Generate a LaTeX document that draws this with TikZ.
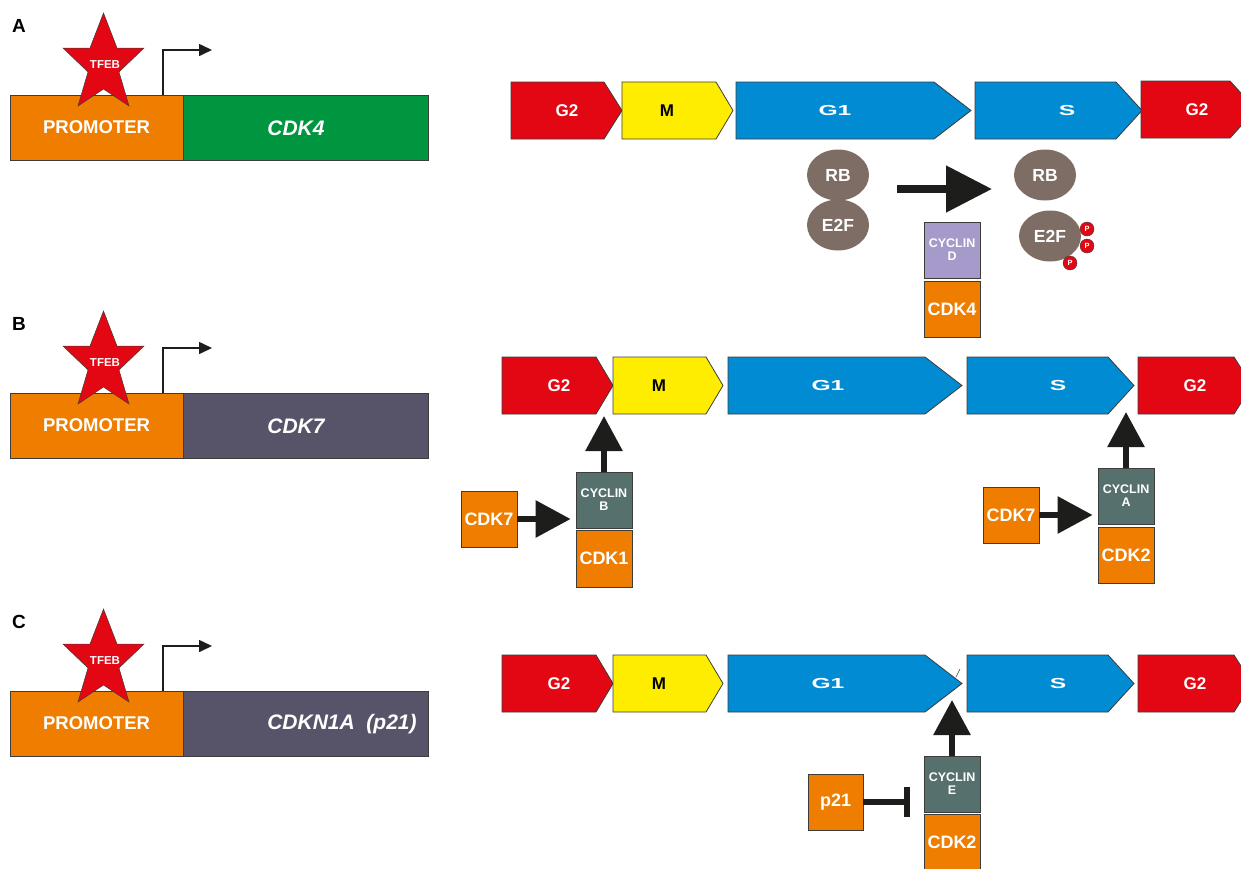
\documentclass[tikz,border=0pt]{standalone}
\usepackage{fontspec}
\setmainfont{Liberation Sans}
\usetikzlibrary{arrows.meta,shapes.geometric}
\definecolor{cred}{RGB}{227,6,19}
\definecolor{corange}{RGB}{239,125,0}
\definecolor{cgreen}{RGB}{0,150,64}
\definecolor{cyellow}{RGB}{255,237,0}
\definecolor{cblue}{RGB}{0,139,210}
\definecolor{cellip}{RGB}{126,109,101}
\definecolor{clav}{RGB}{165,154,202}
\definecolor{cteal}{RGB}{86,112,110}
\definecolor{cslate}{RGB}{87,83,105}
\definecolor{cblack}{RGB}{29,29,27}
\definecolor{cborder}{RGB}{60,60,59}
\newcommand\setfs[1]{\fontsize{#1}{#1}\selectfont}
\newcommand\phw[1]{\textcolor{white}{\setfs{17}\bfseries #1}}
\newcommand\phk[1]{\textcolor{black}{\setfs{17}\bfseries #1}}
\newcommand\phx[1]{\textcolor{white}{\setfs{14.5}\bfseries\scalebox{1.7}[1]{#1}}}
% phase: #1 name, #2 x left, #3 x body end, #4 x tip, #5 y top, #6 fill, #7 text x, #8 text
\newcommand\phase[8]{%
  \draw[phasebox, fill=#6] (#2,#5) -- (#3,#5) -- (#4,{#5+28.5}) -- (#3,{#5+57}) -- (#2,{#5+57}) -- cycle;
  \node[phaselabel] (#1) at (#7,{#5+28.5}) {#8};
}
% gene panel: #1 id, #2 y shift, #3 gene colour, #4 gene text, #5 gene text x
\newcommand\genepanel[5]{%
\begin{scope}[shift={(0,#2)}]
  \node[panellabel] (lab#1) at (19,26) {#1};
  \node[genebox, fill=corange, minimum width=173pt] (prom#1) at (96.5,127.5) {\setfs{18.5}\bfseries PROMOTER};
  \node[genebox, fill=#3, minimum width=245pt] (gene#1) at (305.5,127.5) {};
  \node[text=white, inner sep=0pt] (genelab#1) at (#5,128) {\setfs{21}\bfseries\itshape #4};
  \draw[tfebstar] (103.5,13) -- (90,48) -- (63,48) -- (88,72) -- (78,106) -- (103.5,89)
     -- (129,106) -- (119,72) -- (144,48) -- (117,48) -- cycle;
  \node[text=white, inner sep=0pt] (tfeb#1) at (105,65) {\setfs{11.5}\bfseries TFEB};
  \coordinate (tss#1) at (163,95);
  \coordinate (txend#1) at (212,50);
  \draw[txarrow] (tss#1) |- (txend#1);
\end{scope}}
\begin{document}
\begin{tikzpicture}[x=1pt,y=-1pt,
  phasebox/.style={draw=cborder, line width=0.8pt},
  phaselabel/.style={inner sep=0pt},
  panellabel/.style={inner sep=0pt, font=\setfs{19}\bfseries},
  genebox/.style={draw=cborder, line width=0.8pt, minimum height=65pt, inner sep=0pt, text=white},
  tfebstar/.style={fill=cred, draw=cborder, line width=0.5pt},
  txarrow/.style={draw=cblack, line width=1.6pt, -{Triangle[length=13pt,width=12pt]}},
  protbox/.style={draw=cborder, line width=0.8pt, minimum width=56pt, minimum height=56pt, inner sep=0pt, text=white, align=center},
  cdkbox/.style={protbox, fill=corange, font=\setfs{18}\bfseries},
  cycbox/.style={protbox, font=\setfs{12.5}\bfseries},
  blob/.style={ellipse, fill=cellip, minimum width=62pt, minimum height=51pt, inner sep=0pt, text=white, font=\setfs{17.5}\bfseries},
  phos/.style={circle, fill=cred, draw=cborder, line width=0.4pt, minimum size=14pt, inner sep=0pt, text=white, font=\setfs{7.5}\bfseries},
  bigarrowA/.style={draw=cblack, line width=8pt, -{Triangle[length=46pt,width=45pt]}},
  bigarrow/.style={draw=cblack, line width=6pt, -{Triangle[length=35pt,width=36pt]}},
  inhibit/.style={draw=cblack, line width=6pt, -{Bar[width=30pt]}}
]
\clip (0,0) rectangle (1241,868);

% ---------------- gene panels ----------------
\genepanel{A}{0}{cgreen}{CDK4}{296}
\genepanel{B}{298}{cslate}{CDK7}{296}
\genepanel{C}{596}{cslate}{CDKN1A\ \ (p21)}{342}

% ---------------- panel A cell cycle ----------------
\phase{A-G2a}{511}{604}{622}{82}{cred}{567}{\phw{G2}}
\phase{A-M}{622}{716}{733}{82}{cyellow}{667}{\phk{M}}
\phase{A-G1}{736}{934}{971}{82}{cblue}{835}{\phx{G1}}
\phase{A-S}{975}{1116}{1142}{82}{cblue}{1067}{\phx{S}}
\phase{A-G2b}{1141}{1230}{1256}{81}{cred}{1197}{\phw{G2}}

\node[blob] (rb1) at (838,175) {RB};
\node[blob] (e2f1) at (838,225) {E2F};
\node[blob] (rb2) at (1045,175) {RB};
\node[blob] (e2f2) at (1050,236) {E2F};
\node[phos] (p1) at (1087,229) {P};
\node[phos] (p2) at (1087,246) {P};
\node[phos] (p3) at (1070,263) {P};
\coordinate (arrAs) at (897,189);
\coordinate (arrAe) at (992,189);
\draw[bigarrowA] (arrAs) -- (arrAe);
\node[cycbox, fill=clav] (cycD) at (952,250) {CYCLIN\\[0.5pt]D};
\node[cdkbox] (cdk4) at (952,309) {CDK4};

% ---------------- panel B cell cycle ----------------
\phase{B-G2a}{502}{596}{613}{357}{cred}{559}{\phw{G2}}
\phase{B-M}{613}{706}{723}{357}{cyellow}{659}{\phk{M}}
\phase{B-G1}{728}{925}{962}{357}{cblue}{828}{\phx{G1}}
\phase{B-S}{967}{1108}{1134}{357}{cblue}{1058}{\phx{S}}
\phase{B-G2b}{1138}{1234}{1252}{357}{cred}{1195}{\phw{G2}}

\node[cycbox, fill=cteal] (cycB) at (604,500) {CYCLIN\\[0.5pt]B};
\node[cdkbox, minimum height=57pt] (cdk1) at (604,558.5) {CDK1};
\node[cdkbox] (cdk7a) at (489,519) {CDK7};
\coordinate (tipGM) at (604,416);
\draw[bigarrow] (cycB.north) -- (tipGM);
\draw[bigarrow, shorten >=5pt] (cdk7a.east) -- (cdk7a.east -| cycB.west);

\node[cycbox, fill=cteal] (cycA) at (1126,496) {CYCLIN\\[0.5pt]A};
\node[cdkbox] (cdk2a) at (1126,555) {CDK2};
\node[cdkbox] (cdk7b) at (1011,515) {CDK7};
\coordinate (tipSG) at (1126,412);
\draw[bigarrow] (cycA.north) -- (tipSG);
\draw[bigarrow, shorten >=5pt] (cdk7b.east) -- (cdk7b.east -| cycA.west);

% ---------------- panel C cell cycle ----------------
\phase{C-G2a}{502}{596}{613}{655}{cred}{559}{\phw{G2}}
\phase{C-M}{613}{706}{723}{655}{cyellow}{659}{\phk{M}}
\phase{C-G1}{728}{925}{962}{655}{cblue}{828}{\phx{G1}}
\phase{C-S}{967}{1108}{1134}{655}{cblue}{1058}{\phx{S}}
\phase{C-G2b}{1138}{1234}{1252}{655}{cred}{1195}{\phw{G2}}
\draw[cborder, line width=0.6pt] (956,677) -- (960,669);

\node[cycbox, fill=cteal] (cycE) at (952,784) {CYCLIN\\[0.5pt]E};
\node[cdkbox, minimum height=57pt] (cdk2b) at (952,842.5) {CDK2};
\node[cdkbox, minimum width=55pt] (p21) at (835.5,802) {p21};
\coordinate (tipGS) at (952,700);
\draw[bigarrow] (cycE.north) -- (tipGS);
\coordinate (inhE) at (910,802);
\draw[inhibit] (p21.east) -- (inhE);
\end{tikzpicture}
\end{document}
